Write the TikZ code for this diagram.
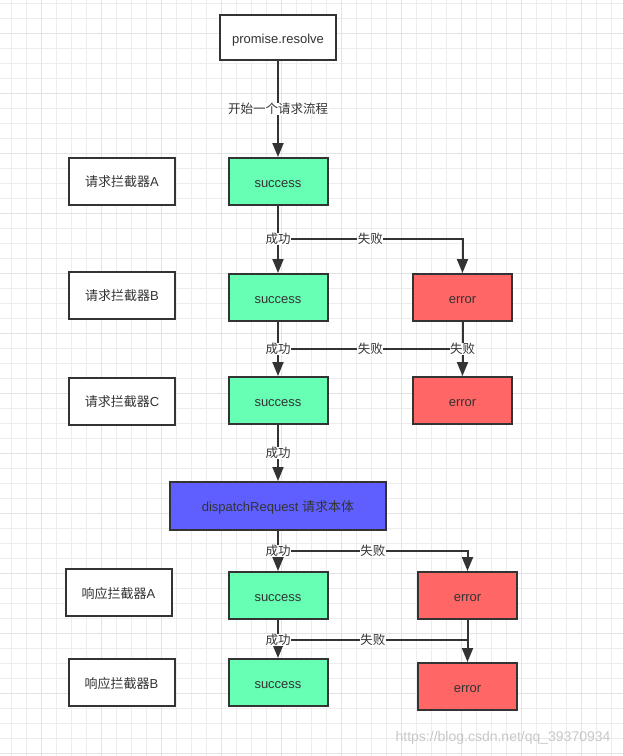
\documentclass[tikz,border=0pt]{standalone}
\usepackage{fontspec}
\setmainfont{Liberation Sans}
\newfontfamily\cjk{Noto Sans CJK SC}
\usetikzlibrary{arrows.meta}
\definecolor{okgreen}{HTML}{66FFB3}
\definecolor{failred}{HTML}{FF6666}
\definecolor{corblue}{HTML}{5F5FFF}
\definecolor{ink}{HTML}{333333}
\tikzset{
	box/.style={draw=ink,line width=2pt,inner sep=0pt,text=ink,text height=11pt,text depth=0pt,font=\fontsize{13}{15}\selectfont},
	stage/.style={box,fill=white,minimum width=106pt,minimum height=47pt},
	okbox/.style={box,fill=okgreen,minimum width=99pt,minimum height=47pt},
	errbox/.style={box,fill=failred,minimum width=99pt,minimum height=47pt},
	flow/.style={draw=ink,line width=2pt},
	arr/.style={flow,-{Triangle[length=14pt,width=11pt]}},
	lbl/.style={fill=white,inner sep=0.5pt,text=ink,font=\fontsize{12.5}{14}\cjk},
}
\begin{document}
\begin{tikzpicture}[x=1pt,y=-1pt]
	\useasboundingbox (0,0) rectangle (623,756);
	% background grid
	\foreach \x in {11.7,26.7,...,620} \draw[black!7,line width=0.8pt] (\x,0) -- (\x,756);
	\foreach \y in {3.3,18.3,...,756} \draw[black!7,line width=0.8pt] (0,\y) -- (623,\y);
	\foreach \x in {41.7,101.7,...,620} \draw[black!11,line width=0.8pt] (\x,0) -- (\x,756);
	\foreach \y in {33.3,93.3,...,756} \draw[black!11,line width=0.8pt] (0,\y) -- (623,\y);

	% boxes
	\node[box,fill=white,minimum width=116pt,minimum height=45pt] (start) at (278,37.5) {promise.resolve};
	\node[stage] (qa) at (122,181) {{\cjk 请求拦截器}A};
	\node[stage] (qb) at (122,295) {{\cjk 请求拦截器}B};
	\node[stage] (qc) at (122,401) {{\cjk 请求拦截器}C};
	\node[okbox] (sa) at (278,181.5) {success};
	\node[okbox] (sb) at (278,297.5) {success};
	\node[okbox] (sc) at (278,400.5) {success};
	\node[errbox] (eb) at (462.5,297.5) {error};
	\node[errbox] (ec) at (462.5,400.5) {error};
	\node[box,fill=corblue,minimum width=216pt,minimum height=48pt] (core) at (278,506) {dispatchRequest {\cjk 请求本体}};
	\node[stage] (pa) at (118.5,592.5) {{\cjk 响应拦截器}A};
	\node[stage] (pb) at (121.5,682.5) {{\cjk 响应拦截器}B};
	\node[okbox] (ra) at (278,595.5) {success};
	\node[okbox] (rb) at (278,682.5) {success};
	\node[errbox] (xa) at (467.5,595.5) {error};
	\node[errbox] (xb) at (467.5,686.5) {error};

	% branch points
	\coordinate (ja) at (278,239);
	\coordinate (jb) at (278,349);
	\coordinate (jd) at (278,551);
	\coordinate (jr) at (278,640);

	% connectors
	\draw[arr] (start) -- (sa) node[lbl,pos=0.5] {开始一个请求流程};
	\draw[arr] (sa) -- (sb);
	\draw[arr] (ja) -| node[lbl,pos=0.25] {失败} (eb);
	\node[lbl] (oka) at (ja) {成功};
	\draw[arr] (sb) -- (sc);
	\draw[flow] (jb) -- node[lbl] {失败} (jb -| ec);
	\draw[arr] (eb) -- (ec) node[lbl,midway] {失败};
	\node[lbl] (okb) at (jb) {成功};
	\draw[arr] (sc) -- (core) node[lbl,midway] {成功};
	\draw[arr] (core) -- (ra);
	\draw[arr] (jd) -| node[lbl,pos=0.25] {失败} (xa);
	\node[lbl] (okd) at (jd) {成功};
	\draw[arr] (ra) -- (rb);
	\draw[flow] (jr) -- node[lbl] {失败} (jr -| xa);
	\draw[arr] (xa) -- (xb);
	\node[lbl] (okr) at (jr) {成功};

	% watermark
	\node[text=black!22,font=\fontsize{14}{16}\selectfont,anchor=east] (mark) at (614,738) {https://blog.csdn.net/qq\_39370934};
\end{tikzpicture}
\end{document}
